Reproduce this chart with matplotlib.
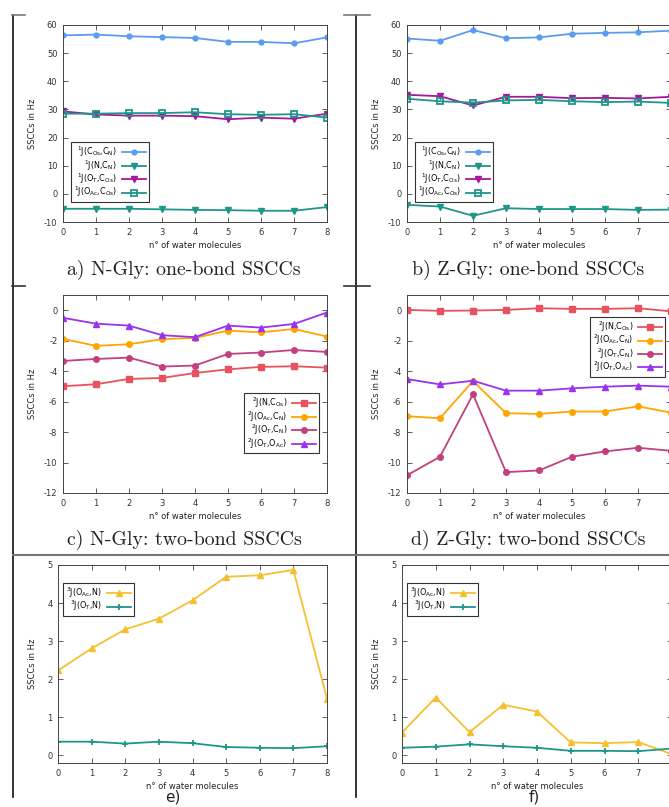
import matplotlib
matplotlib.use("Agg")
import matplotlib.pyplot as plt
from matplotlib.lines import Line2D

plt.rcParams['font.family'] = ['DejaVu Sans']
plt.rcParams['axes.unicode_minus'] = False
plt.rcParams['mathtext.fontset'] = 'dejavusans'

# ---- data -------------------------------------------------------------
n_water = [0, 1, 2, 3, 4, 5, 6, 7, 8]

# one-bond couplings, N-Gly
a_CosCN = [56.3, 56.6, 56.0, 55.7, 55.4, 54.0, 54.0, 53.5, 55.6]
a_NCN = [-5.3, -5.3, -5.3, -5.5, -5.7, -5.8, -6.0, -6.0, -4.7]
a_OTCos = [29.3, 28.2, 27.8, 27.8, 27.6, 26.5, 27.1, 26.7, 28.5]
a_OAcCos = [28.5, 28.5, 28.7, 28.7, 29.0, 28.3, 28.1, 28.3, 27.1]

# one-bond couplings, Z-Gly
b_CosCN = [55.2, 54.4, 58.2, 55.3, 55.6, 56.9, 57.2, 57.4, 58.0]
b_NCN = [-3.9, -4.5, -7.8, -5.1, -5.4, -5.4, -5.4, -5.7, -5.6]
b_OTCos = [35.2, 34.7, 31.4, 34.5, 34.5, 34.0, 34.1, 33.9, 34.5]
b_OAcCos = [33.8, 32.9, 32.4, 33.2, 33.4, 32.9, 32.6, 32.8, 32.3]

# two-bond couplings, N-Gly
c_NCos = [-4.99, -4.86, -4.51, -4.45, -4.12, -3.88, -3.72, -3.68, -3.77]
c_OAcCN = [-1.88, -2.34, -2.23, -1.90, -1.82, -1.34, -1.45, -1.23, -1.73]
c_OTCN = [-3.33, -3.20, -3.11, -3.70, -3.63, -2.87, -2.78, -2.61, -2.74]
c_OTOAc = [-0.50, -0.88, -1.01, -1.64, -1.77, -1.01, -1.14, -0.90, -0.15]

# two-bond couplings, Z-Gly
d_NCos = [0.02, -0.04, -0.02, 0.02, 0.13, 0.09, 0.09, 0.13, -0.07]
d_OAcCN = [-6.96, -7.09, -4.65, -6.76, -6.81, -6.65, -6.65, -6.31, -6.72]
d_OTCN = [-10.84, -9.62, -5.52, -10.63, -10.52, -9.62, -9.27, -9.03, -9.23]
d_OTOAc = [-4.52, -4.87, -4.63, -5.28, -5.28, -5.13, -5.02, -4.95, -5.02]

# three-bond couplings, N-Gly
e_OAcN = [2.23, 2.81, 3.31, 3.59, 4.07, 4.69, 4.73, 4.87, 1.49]
e_OTN = [0.36, 0.36, 0.31, 0.36, 0.32, 0.22, 0.20, 0.19, 0.24]

# three-bond couplings, Z-Gly
f_OAcN = [0.60, 1.52, 0.61, 1.33, 1.15, 0.34, 0.32, 0.35, 0.03]
f_OTN = [0.20, 0.23, 0.29, 0.24, 0.20, 0.12, 0.12, 0.11, 0.18]

labels_1 = [r'$^{1}$J(C$_{\rm Os}$,C$_{\rm N}$)', r'$^{1}$J(N,C$_{\rm N}$)',
            r'$^{1}$J(O$_{\rm T}$,C$_{\rm Os}$)', r'$^{1}$J(O$_{\rm Ac}$,C$_{\rm Os}$)']
labels_2 = [r'$^{2}$J(N,C$_{\rm Os}$)', r'$^{2}$J(O$_{\rm Ac}$,C$_{\rm N}$)',
            r'$^{2}$J(O$_{\rm T}$,C$_{\rm N}$)', r'$^{2}$J(O$_{\rm T}$,O$_{\rm Ac}$)']
labels_3 = [r'$^{3}$J(O$_{\rm Ac}$,N)', r'$^{3}$J(O$_{\rm T}$,N)']

titles = ['a) N-Gly: one-bond SSCCs', 'b) Z-Gly: one-bond SSCCs',
          'c) N-Gly: two-bond SSCCs', 'd) Z-Gly: two-bond SSCCs', 'e)', 'f)']

# ---- styles -----------------------------------------------------------
BLUE, TEAL, MAG = '#5b9bf0', '#1f968a', '#a3189d'
RED, ORANGE, PINK, PURPLE = '#e8525e', '#ffa500', '#c2407e', '#9933ee'
GOLD = '#f5c030'

style_1 = [dict(color=BLUE, marker='o', ms=3.5),
           dict(color=TEAL, marker='v', ms=4.5),
           dict(color=MAG, marker='v', ms=4.5),
           dict(color=TEAL, marker='s', ms=4.5, mfc='none', mew=1.3)]
style_2 = [dict(color=RED, marker='s', ms=4),
           dict(color=ORANGE, marker='o', ms=4),
           dict(color=PINK, marker='o', ms=4),
           dict(color=PURPLE, marker='^', ms=4.5)]
style_3 = [dict(color=GOLD, marker='^', ms=5),
           dict(color=TEAL, marker='+', ms=5, mew=1.3)]

W, H = 669, 807
fig = plt.figure(figsize=(W / 100, H / 100), dpi=100)


def px_axes(left, right, top, bottom):
    return fig.add_axes([left / W, 1 - bottom / H, (right - left) / W, (bottom - top) / H])


def panel(ax, series, labels, styles, ylim, yticks, leg_loc, leg_anchor, ylab_x,
          last_xlabel=True):
    for ys, lab, st in zip(series, labels, styles):
        ax.plot(n_water, ys, label=lab, lw=1.3, **st)
    ax.set_xlim(0, 8)
    ax.set_ylim(*ylim)
    ax.set_xticks(n_water)
    xt = [str(v) for v in n_water]
    if not last_xlabel:
        xt[-1] = ''
    ax.set_xticklabels(xt)
    ax.set_yticks(yticks)
    ax.tick_params(direction='in', top=True, right=True, length=3.5, width=0.6,
                   labelsize=6, labelcolor='#333333', color='#444444', pad=4)
    for s in ax.spines.values():
        s.set_color('#444444')
        s.set_linewidth(0.7)
    ax.set_ylabel('SSCCs in Hz', fontsize=6, color='#222222')
    ax.set_xlabel('n° of water molecules', fontsize=6, color='#222222')
    ax.yaxis.set_label_coords(ylab_x, 0.5)
    ax.xaxis.set_label_coords(0.5, -0.095)
    leg = ax.legend(loc=leg_loc, bbox_to_anchor=leg_anchor, borderaxespad=0,
                    markerfirst=False, fontsize=5.8, fancybox=False, framealpha=1,
                    edgecolor='#333333', handlelength=3.0, handletextpad=0.6,
                    labelspacing=-0.12, borderpad=0.35)
    leg.get_frame().set_linewidth(0.8)


ax_a = px_axes(63, 327, 25, 222)
panel(ax_a, [a_CosCN, a_NCN, a_OTCos, a_OAcCos], labels_1, style_1,
      (-10, 60), range(-10, 61, 10), 'lower left', (0.03, 0.10), -0.098)

ax_b = px_axes(407, 671, 25, 222)
panel(ax_b, [b_CosCN, b_NCN, b_OTCos, b_OAcCos], labels_1, style_1,
      (-10, 60), range(-10, 61, 10), 'lower left', (0.03, 0.10), -0.098,
      last_xlabel=False)

ax_c = px_axes(63, 327, 295, 493)
panel(ax_c, [c_NCos, c_OAcCN, c_OTCN, c_OTOAc], labels_2, style_2,
      (-12, 1), range(-12, 1, 2), 'upper right', (0.97, 0.505), -0.098)

ax_d = px_axes(407, 671, 295, 493)
panel(ax_d, [d_NCos, d_OAcCN, d_OTCN, d_OTOAc], labels_2, style_2,
      (-12, 1), range(-12, 1, 2), 'upper right', (0.977, 0.89), -0.098,
      last_xlabel=False)

ax_e = px_axes(58, 327, 565, 763)
panel(ax_e, [e_OAcN, e_OTN], labels_3, style_3,
      (-0.2, 5), range(0, 6), 'upper left', (0.02, 0.91), -0.078)

ax_f = px_axes(402, 672, 565, 763)
panel(ax_f, [f_OAcN, f_OTN], labels_3, style_3,
      (-0.2, 5), range(0, 6), 'upper left', (0.02, 0.91), -0.078,
      last_xlabel=False)

# ---- captions ---------------------------------------------------------
cap_pos = [(184, 270), (528, 270), (184, 540), (528, 540), (173, 797), (534, 797)]
for (cx, cy), t in zip(cap_pos[:4], titles[:4]):
    fig.text(cx / W, 1 - cy / H, t, ha='center', va='center',
             fontsize=14.3, family='cmr10', color='#222222')
for (cx, cy), t in zip(cap_pos[4:], titles[4:]):
    fig.text(cx / W, 1 - cy / H, t, ha='center', va='center',
             fontsize=11, color='#222222')


# ---- table rules ------------------------------------------------------
def rule(x0, y0, x1, y1, color='#111111', lw=1.2):
    fig.add_artist(Line2D([x0 / W, x1 / W], [1 - y0 / H, 1 - y1 / H],
                          color=color, lw=lw, transform=fig.transFigure))


rule(13, 15, 13, 797)
rule(356, 15, 356, 797)
rule(12, 15, 25, 15, color='#777777')
rule(344, 15, 370, 15, color='#777777')
rule(12, 286, 25, 286, color='#333333')
rule(344, 286, 370, 286, color='#333333')
rule(13, 555, 669, 555, color='#777777', lw=1.5)

fig.savefig('out.png', dpi=100)
